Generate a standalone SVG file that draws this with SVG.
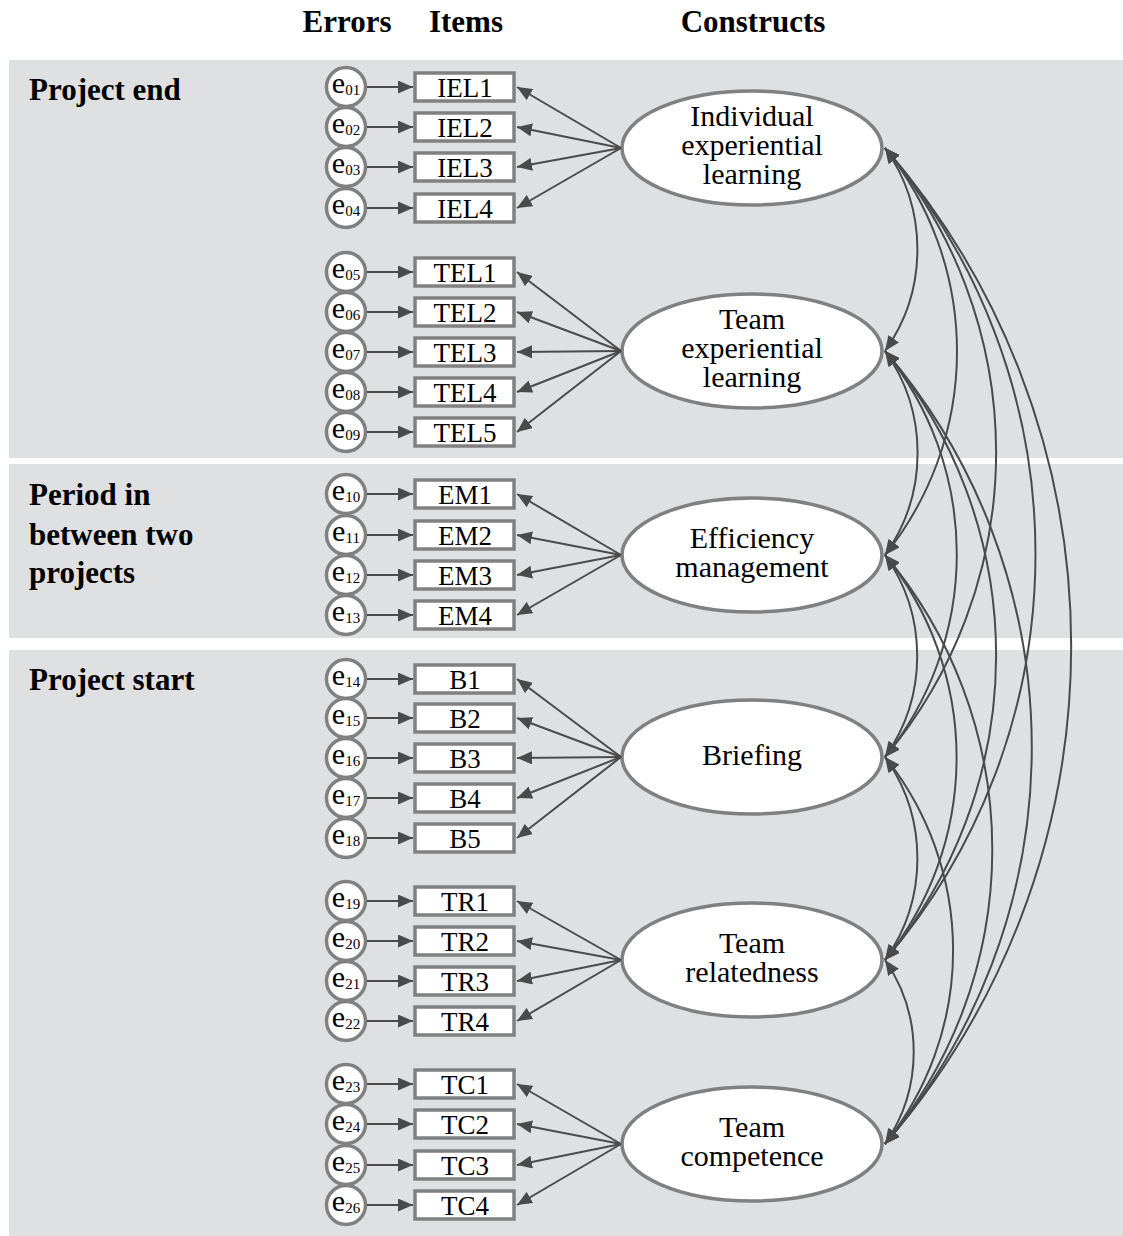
<svg xmlns="http://www.w3.org/2000/svg" width="1123" height="1236" viewBox="0 0 1123 1236">
  <style>
    .band { fill: #dfe0e2; }
    .head { font-family: "Liberation Serif", "Times New Roman", serif; font-weight: bold; font-size: 31px; fill: #000; }
    .phase { font-family: "Liberation Serif", "Times New Roman", serif; font-weight: bold; font-size: 31px; fill: #000; }
    .err circle { fill: #fff; stroke: #808080; stroke-width: 3.5; }
    .err text { font-family: "Liberation Serif", "Times New Roman", serif; font-size: 30px; fill: #000; text-anchor: middle; }
    .err .sub { font-size: 15px; }
    .item rect { fill: #fff; stroke: #808080; stroke-width: 3.5; }
    .item text { font-family: "Liberation Serif", "Times New Roman", serif; font-size: 27px; fill: #000; text-anchor: middle; }
    .construct ellipse { fill: #fff; stroke: #808080; stroke-width: 3.5; }
    .construct text { font-family: "Liberation Serif", "Times New Roman", serif; font-size: 30px; fill: #000; text-anchor: middle; }
    .arrow { stroke: #4a4a4a; stroke-width: 2; fill: none; marker-end: url(#head); }
    .cov { stroke: #4a4a4a; stroke-width: 2; fill: none; marker-start: url(#head); marker-end: url(#head); }
  </style>
  <defs>
    <marker id="head" markerUnits="userSpaceOnUse" markerWidth="15" markerHeight="13" refX="15" refY="6.5" orient="auto-start-reverse">
      <path d="M0,0 L15,6.5 L0,13 z" fill="#4a4a4a"/>
    </marker>
  </defs>

  <!-- time phase bands -->
  <g id="bands">
    <rect class="band" x="9" y="60" width="1114" height="398"/>
    <rect class="band" x="9" y="464" width="1114" height="174"/>
    <rect class="band" x="9" y="650" width="1114" height="586"/>
  </g>

  <!-- column headers and phase labels -->
  <g id="labels">
    <text class="head" x="347" y="32" text-anchor="middle">Errors</text>
    <text class="head" x="466" y="32" text-anchor="middle">Items</text>
    <text class="head" x="753" y="32" text-anchor="middle">Constructs</text>
    <text class="phase" x="29" y="100">Project end</text>
    <text class="phase" x="29" y="505">Period in</text>
    <text class="phase" x="29" y="545">between two</text>
    <text class="phase" x="29" y="583">projects</text>
    <text class="phase" x="29" y="690">Project start</text>
  </g>

  <!-- error terms -->
  <g id="errors">
    <g id="e01" class="err"><circle cx="346" cy="87" r="19.5"/><text x="346" y="93">e<tspan class="sub" dy="2">01</tspan></text></g>
    <g id="e02" class="err"><circle cx="346" cy="127" r="19.5"/><text x="346" y="133">e<tspan class="sub" dy="2">02</tspan></text></g>
    <g id="e03" class="err"><circle cx="346" cy="167" r="19.5"/><text x="346" y="173">e<tspan class="sub" dy="2">03</tspan></text></g>
    <g id="e04" class="err"><circle cx="346" cy="208" r="19.5"/><text x="346" y="214">e<tspan class="sub" dy="2">04</tspan></text></g>
    <g id="e05" class="err"><circle cx="346" cy="272" r="19.5"/><text x="346" y="278">e<tspan class="sub" dy="2">05</tspan></text></g>
    <g id="e06" class="err"><circle cx="346" cy="312" r="19.5"/><text x="346" y="318">e<tspan class="sub" dy="2">06</tspan></text></g>
    <g id="e07" class="err"><circle cx="346" cy="352" r="19.5"/><text x="346" y="358">e<tspan class="sub" dy="2">07</tspan></text></g>
    <g id="e08" class="err"><circle cx="346" cy="392" r="19.5"/><text x="346" y="398">e<tspan class="sub" dy="2">08</tspan></text></g>
    <g id="e09" class="err"><circle cx="346" cy="432" r="19.5"/><text x="346" y="438">e<tspan class="sub" dy="2">09</tspan></text></g>
    <g id="e10" class="err"><circle cx="346" cy="494" r="19.5"/><text x="346" y="500">e<tspan class="sub" dy="2">10</tspan></text></g>
    <g id="e11" class="err"><circle cx="346" cy="535" r="19.5"/><text x="346" y="541">e<tspan class="sub" dy="2">11</tspan></text></g>
    <g id="e12" class="err"><circle cx="346" cy="575" r="19.5"/><text x="346" y="581">e<tspan class="sub" dy="2">12</tspan></text></g>
    <g id="e13" class="err"><circle cx="346" cy="615" r="19.5"/><text x="346" y="621">e<tspan class="sub" dy="2">13</tspan></text></g>
    <g id="e14" class="err"><circle cx="346" cy="679" r="19.5"/><text x="346" y="685">e<tspan class="sub" dy="2">14</tspan></text></g>
    <g id="e15" class="err"><circle cx="346" cy="718" r="19.5"/><text x="346" y="724">e<tspan class="sub" dy="2">15</tspan></text></g>
    <g id="e16" class="err"><circle cx="346" cy="758" r="19.5"/><text x="346" y="764">e<tspan class="sub" dy="2">16</tspan></text></g>
    <g id="e17" class="err"><circle cx="346" cy="798" r="19.5"/><text x="346" y="804">e<tspan class="sub" dy="2">17</tspan></text></g>
    <g id="e18" class="err"><circle cx="346" cy="838" r="19.5"/><text x="346" y="844">e<tspan class="sub" dy="2">18</tspan></text></g>
    <g id="e19" class="err"><circle cx="346" cy="901" r="19.5"/><text x="346" y="907">e<tspan class="sub" dy="2">19</tspan></text></g>
    <g id="e20" class="err"><circle cx="346" cy="941" r="19.5"/><text x="346" y="947">e<tspan class="sub" dy="2">20</tspan></text></g>
    <g id="e21" class="err"><circle cx="346" cy="981" r="19.5"/><text x="346" y="987">e<tspan class="sub" dy="2">21</tspan></text></g>
    <g id="e22" class="err"><circle cx="346" cy="1021" r="19.5"/><text x="346" y="1027">e<tspan class="sub" dy="2">22</tspan></text></g>
    <g id="e23" class="err"><circle cx="346" cy="1084" r="19.5"/><text x="346" y="1090">e<tspan class="sub" dy="2">23</tspan></text></g>
    <g id="e24" class="err"><circle cx="346" cy="1124" r="19.5"/><text x="346" y="1130">e<tspan class="sub" dy="2">24</tspan></text></g>
    <g id="e25" class="err"><circle cx="346" cy="1165" r="19.5"/><text x="346" y="1171">e<tspan class="sub" dy="2">25</tspan></text></g>
    <g id="e26" class="err"><circle cx="346" cy="1205" r="19.5"/><text x="346" y="1211">e<tspan class="sub" dy="2">26</tspan></text></g>
  </g>

  <!-- observed items -->
  <g id="items">
    <g id="IEL1" class="item"><rect x="415" y="73" width="99" height="28"/><text x="465" y="97">IEL1</text></g>
    <g id="IEL2" class="item"><rect x="415" y="113" width="99" height="28"/><text x="465" y="137">IEL2</text></g>
    <g id="IEL3" class="item"><rect x="415" y="153" width="99" height="28"/><text x="465" y="177">IEL3</text></g>
    <g id="IEL4" class="item"><rect x="415" y="194" width="99" height="28"/><text x="465" y="218">IEL4</text></g>
    <g id="TEL1" class="item"><rect x="415" y="258" width="99" height="28"/><text x="465" y="282">TEL1</text></g>
    <g id="TEL2" class="item"><rect x="415" y="298" width="99" height="28"/><text x="465" y="322">TEL2</text></g>
    <g id="TEL3" class="item"><rect x="415" y="338" width="99" height="28"/><text x="465" y="362">TEL3</text></g>
    <g id="TEL4" class="item"><rect x="415" y="378" width="99" height="28"/><text x="465" y="402">TEL4</text></g>
    <g id="TEL5" class="item"><rect x="415" y="418" width="99" height="28"/><text x="465" y="442">TEL5</text></g>
    <g id="EM1" class="item"><rect x="415" y="480" width="99" height="28"/><text x="465" y="504">EM1</text></g>
    <g id="EM2" class="item"><rect x="415" y="521" width="99" height="28"/><text x="465" y="545">EM2</text></g>
    <g id="EM3" class="item"><rect x="415" y="561" width="99" height="28"/><text x="465" y="585">EM3</text></g>
    <g id="EM4" class="item"><rect x="415" y="601" width="99" height="28"/><text x="465" y="625">EM4</text></g>
    <g id="B1" class="item"><rect x="415" y="665" width="99" height="28"/><text x="465" y="689">B1</text></g>
    <g id="B2" class="item"><rect x="415" y="704" width="99" height="28"/><text x="465" y="728">B2</text></g>
    <g id="B3" class="item"><rect x="415" y="744" width="99" height="28"/><text x="465" y="768">B3</text></g>
    <g id="B4" class="item"><rect x="415" y="784" width="99" height="28"/><text x="465" y="808">B4</text></g>
    <g id="B5" class="item"><rect x="415" y="824" width="99" height="28"/><text x="465" y="848">B5</text></g>
    <g id="TR1" class="item"><rect x="415" y="887" width="99" height="28"/><text x="465" y="911">TR1</text></g>
    <g id="TR2" class="item"><rect x="415" y="927" width="99" height="28"/><text x="465" y="951">TR2</text></g>
    <g id="TR3" class="item"><rect x="415" y="967" width="99" height="28"/><text x="465" y="991">TR3</text></g>
    <g id="TR4" class="item"><rect x="415" y="1007" width="99" height="28"/><text x="465" y="1031">TR4</text></g>
    <g id="TC1" class="item"><rect x="415" y="1070" width="99" height="28"/><text x="465" y="1094">TC1</text></g>
    <g id="TC2" class="item"><rect x="415" y="1110" width="99" height="28"/><text x="465" y="1134">TC2</text></g>
    <g id="TC3" class="item"><rect x="415" y="1151" width="99" height="28"/><text x="465" y="1175">TC3</text></g>
    <g id="TC4" class="item"><rect x="415" y="1191" width="99" height="28"/><text x="465" y="1215">TC4</text></g>
  </g>

  <!-- latent constructs -->
  <g id="constructs">
    <g id="IEL" class="construct"><ellipse cx="752" cy="148" rx="130" ry="57"/>
      <text x="752" y="126">Individual</text><text x="752" y="155">experiential</text><text x="752" y="184">learning</text></g>
    <g id="TEL" class="construct"><ellipse cx="752" cy="351" rx="130" ry="57"/>
      <text x="752" y="329">Team</text><text x="752" y="358">experiential</text><text x="752" y="387">learning</text></g>
    <g id="EM" class="construct"><ellipse cx="752" cy="555" rx="130" ry="57"/>
      <text x="752" y="548">Efficiency</text><text x="752" y="577">management</text></g>
    <g id="B" class="construct"><ellipse cx="752" cy="757" rx="130" ry="57"/>
      <text x="752" y="765">Briefing</text></g>
    <g id="TR" class="construct"><ellipse cx="752" cy="960" rx="130" ry="57"/>
      <text x="752" y="953">Team</text><text x="752" y="982">relatedness</text></g>
    <g id="TC" class="construct"><ellipse cx="752" cy="1144" rx="130" ry="57"/>
      <text x="752" y="1137">Team</text><text x="752" y="1166">competence</text></g>
  </g>

  <g id="connectors">
    <!-- error terms to items -->
    <g id="error-paths">
      <line class="arrow" x1="367" y1="87" x2="413" y2="87"/>
      <line class="arrow" x1="367" y1="127" x2="413" y2="127"/>
      <line class="arrow" x1="367" y1="167" x2="413" y2="167"/>
      <line class="arrow" x1="367" y1="208" x2="413" y2="208"/>
      <line class="arrow" x1="367" y1="272" x2="413" y2="272"/>
      <line class="arrow" x1="367" y1="312" x2="413" y2="312"/>
      <line class="arrow" x1="367" y1="352" x2="413" y2="352"/>
      <line class="arrow" x1="367" y1="392" x2="413" y2="392"/>
      <line class="arrow" x1="367" y1="432" x2="413" y2="432"/>
      <line class="arrow" x1="367" y1="494" x2="413" y2="494"/>
      <line class="arrow" x1="367" y1="535" x2="413" y2="535"/>
      <line class="arrow" x1="367" y1="575" x2="413" y2="575"/>
      <line class="arrow" x1="367" y1="615" x2="413" y2="615"/>
      <line class="arrow" x1="367" y1="679" x2="413" y2="679"/>
      <line class="arrow" x1="367" y1="718" x2="413" y2="718"/>
      <line class="arrow" x1="367" y1="758" x2="413" y2="758"/>
      <line class="arrow" x1="367" y1="798" x2="413" y2="798"/>
      <line class="arrow" x1="367" y1="838" x2="413" y2="838"/>
      <line class="arrow" x1="367" y1="901" x2="413" y2="901"/>
      <line class="arrow" x1="367" y1="941" x2="413" y2="941"/>
      <line class="arrow" x1="367" y1="981" x2="413" y2="981"/>
      <line class="arrow" x1="367" y1="1021" x2="413" y2="1021"/>
      <line class="arrow" x1="367" y1="1084" x2="413" y2="1084"/>
      <line class="arrow" x1="367" y1="1124" x2="413" y2="1124"/>
      <line class="arrow" x1="367" y1="1165" x2="413" y2="1165"/>
      <line class="arrow" x1="367" y1="1205" x2="413" y2="1205"/>
    </g>
    <!-- factor loadings -->
    <g id="loadings">
      <line class="arrow" x1="621" y1="148" x2="517" y2="87"/>
      <line class="arrow" x1="621" y1="148" x2="517" y2="127"/>
      <line class="arrow" x1="621" y1="148" x2="517" y2="167"/>
      <line class="arrow" x1="621" y1="148" x2="517" y2="208"/>
      <line class="arrow" x1="621" y1="351" x2="517" y2="272"/>
      <line class="arrow" x1="621" y1="351" x2="517" y2="312"/>
      <line class="arrow" x1="621" y1="351" x2="517" y2="352"/>
      <line class="arrow" x1="621" y1="351" x2="517" y2="392"/>
      <line class="arrow" x1="621" y1="351" x2="517" y2="432"/>
      <line class="arrow" x1="621" y1="555" x2="517" y2="494"/>
      <line class="arrow" x1="621" y1="555" x2="517" y2="535"/>
      <line class="arrow" x1="621" y1="555" x2="517" y2="575"/>
      <line class="arrow" x1="621" y1="555" x2="517" y2="615"/>
      <line class="arrow" x1="621" y1="757" x2="517" y2="679"/>
      <line class="arrow" x1="621" y1="757" x2="517" y2="718"/>
      <line class="arrow" x1="621" y1="757" x2="517" y2="758"/>
      <line class="arrow" x1="621" y1="757" x2="517" y2="798"/>
      <line class="arrow" x1="621" y1="757" x2="517" y2="838"/>
      <line class="arrow" x1="621" y1="960" x2="517" y2="901"/>
      <line class="arrow" x1="621" y1="960" x2="517" y2="941"/>
      <line class="arrow" x1="621" y1="960" x2="517" y2="981"/>
      <line class="arrow" x1="621" y1="960" x2="517" y2="1021"/>
      <line class="arrow" x1="621" y1="1144" x2="517" y2="1084"/>
      <line class="arrow" x1="621" y1="1144" x2="517" y2="1124"/>
      <line class="arrow" x1="621" y1="1144" x2="517" y2="1165"/>
      <line class="arrow" x1="621" y1="1144" x2="517" y2="1205"/>
    </g>
    <!-- covariances between constructs -->
    <g id="covariances">
      <path class="cov" d="M885,148 A175.2,175.2 0 0 1 885,351"/>
      <path class="cov" d="M885,148 A323.6,323.6 0 0 1 885,555"/>
      <path class="cov" d="M885,148 A472.8,472.8 0 0 1 885,757"/>
      <path class="cov" d="M885,148 A622.9,622.9 0 0 1 885,960"/>
      <path class="cov" d="M885,148 A759.1,759.1 0 0 1 885,1144"/>
      <path class="cov" d="M885,351 A175.9,175.9 0 0 1 885,555"/>
      <path class="cov" d="M885,351 A322.9,322.9 0 0 1 885,757"/>
      <path class="cov" d="M885,351 A472.8,472.8 0 0 1 885,960"/>
      <path class="cov" d="M885,351 A608.9,608.9 0 0 1 885,1144"/>
      <path class="cov" d="M885,555 A174.5,174.5 0 0 1 885,757"/>
      <path class="cov" d="M885,555 A322.2,322.2 0 0 1 885,960"/>
      <path class="cov" d="M885,555 A457.8,457.8 0 0 1 885,1144"/>
      <path class="cov" d="M885,757 A175.2,175.2 0 0 1 885,960"/>
      <path class="cov" d="M885,757 A309.0,309.0 0 0 1 885,1144"/>
      <path class="cov" d="M885,960 A161.8,161.8 0 0 1 885,1144"/>
    </g>
  </g>
</svg>
